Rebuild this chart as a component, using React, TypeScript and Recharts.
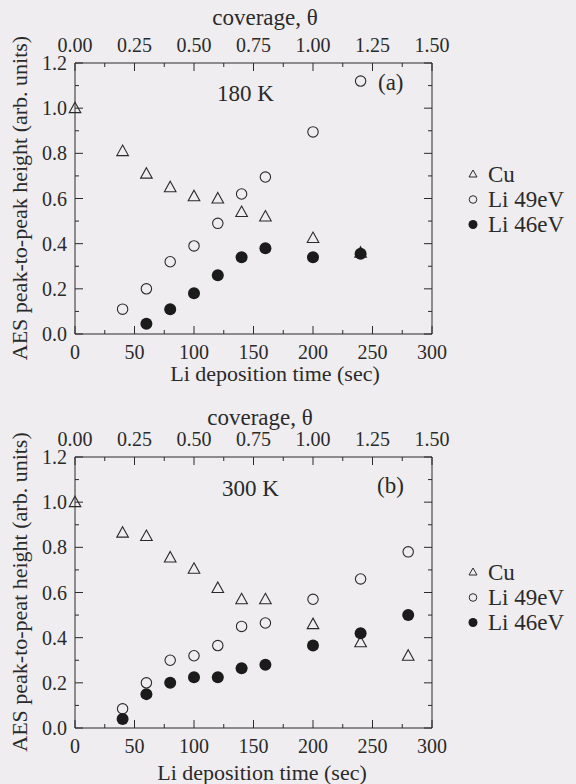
import React from "react";
import { ScatterChart, Scatter, XAxis, YAxis } from "recharts";

const BG = "#efedf0";
const INK = "#2a2a2a";
const FONT = "'Liberation Serif', 'Times New Roman', serif";

// plotting box inside each 576x392 chart
const L = 75;
const R = 432;
const T = 63;
const B = 334;

const timeTicks = [0, 25, 50, 75, 100, 125, 150, 175, 200, 225, 250, 275, 300];
const coverageTicks = [0, 0.125, 0.25, 0.375, 0.5, 0.625, 0.75, 0.875, 1, 1.125, 1.25, 1.375, 1.5];
const heightTicks = [0, 0.1, 0.2, 0.3, 0.4, 0.5, 0.6, 0.7, 0.8, 0.9, 1.0, 1.1, 1.2];

// (a) 180 K
const cuTimeA = [0, 40, 60, 80, 100, 120, 140, 160, 200, 240];
const cuA = [1.0, 0.81, 0.71, 0.65, 0.61, 0.6, 0.54, 0.52, 0.425, 0.36];
const li49TimeA = [40, 60, 80, 100, 120, 140, 160, 200, 240];
const li49A = [0.11, 0.2, 0.32, 0.39, 0.49, 0.62, 0.695, 0.895, 1.12];
const li46TimeA = [60, 80, 100, 120, 140, 160, 200, 240];
const li46A = [0.045, 0.11, 0.18, 0.26, 0.34, 0.38, 0.34, 0.355];

// (b) 300 K
const cuTimeB = [0, 40, 60, 80, 100, 120, 140, 160, 200, 240, 280];
const cuB = [1.0, 0.865, 0.85, 0.755, 0.705, 0.62, 0.57, 0.57, 0.46, 0.38, 0.32];
const liTimeB = [40, 60, 80, 100, 120, 140, 160, 200, 240, 280];
const li49B = [0.085, 0.2, 0.3, 0.32, 0.365, 0.45, 0.465, 0.57, 0.66, 0.78];
const li46B = [0.04, 0.15, 0.2, 0.225, 0.225, 0.265, 0.28, 0.365, 0.42, 0.5];

const zip = (ts: number[], vs: number[]) => ts.map((t, i) => ({ t, v: vs[i] }));

// invisible helper so the top / right axes get drawn (box frame)
const frameCorners = [
  { c: coverageTicks[0], h: heightTicks[0] },
  { c: coverageTicks[coverageTicks.length - 1], h: heightTicks[heightTicks.length - 1] },
];

const Tri = (p: any) => (
  <path
    d={`M${p.cx},${p.cy - 6} L${p.cx + 5.8},${p.cy + 4.5} L${p.cx - 5.8},${p.cy + 4.5} Z`}
    fill="none"
    stroke={INK}
    strokeWidth={1.1}
  />
);
const OpenDot = (p: any) => <circle cx={p.cx} cy={p.cy} r={5.2} fill="none" stroke={INK} strokeWidth={1.1} />;
const FullDot = (p: any) => <circle cx={p.cx} cy={p.cy} r={6} fill="#1b1b1b" />;
const Nothing = () => <g />;

const tickText = { fontSize: 20, fontFamily: FONT, fill: INK };

const BottomTick = (p: any) => {
  const major = p.index % 2 === 0;
  return (
    <g>
      <line x1={p.x} x2={p.x} y1={B} y2={B - (major ? 8 : 4)} stroke={INK} />
      {major && (
        <text x={p.x} y={B + 18} textAnchor="middle" dominantBaseline="central" {...tickText}>
          {p.payload.value}
        </text>
      )}
    </g>
  );
};

const TopTick = (p: any) => {
  const major = p.index % 2 === 0;
  return (
    <g>
      <line x1={p.x} x2={p.x} y1={T} y2={T + (major ? 8 : 4)} stroke={INK} />
      {major && (
        <text x={p.x} y={T - 18} textAnchor="middle" dominantBaseline="central" {...tickText}>
          {p.payload.value.toFixed(2)}
        </text>
      )}
    </g>
  );
};

const LeftTick = (p: any) => {
  const major = p.index % 2 === 0;
  return (
    <g>
      <line x1={L} x2={L + (major ? 8 : 4)} y1={p.y} y2={p.y} stroke={INK} />
      {major && (
        <text x={L - 8} y={p.y} textAnchor="end" dominantBaseline="central" {...tickText}>
          {p.payload.value.toFixed(1)}
        </text>
      )}
    </g>
  );
};

const RightTick = (p: any) => {
  const major = p.index % 2 === 0;
  return <line x1={R} x2={R - (major ? 8 : 4)} y1={p.y} y2={p.y} stroke={INK} />;
};

const abs = (x: number, y: number, size: number, extra: any = {}) => ({
  position: "absolute" as const,
  left: x,
  top: y,
  fontSize: size,
  fontFamily: FONT,
  color: INK,
  whiteSpace: "nowrap" as const,
  lineHeight: 1,
  ...extra,
});

const LegendRow = ({ x, y, kind, label }: any) => (
  <div style={abs(x, y, 23, { transform: "translateY(-50%)", display: "flex", alignItems: "center" })}>
    <svg width={14} height={14} style={{ marginRight: 8 }}>
      {kind === "tri" && <path d="M7,2.5 L11,9.5 L3,9.5 Z" fill="none" stroke={INK} />}
      {kind === "open" && <circle cx={7} cy={7} r={3.8} fill="none" stroke={INK} />}
      {kind === "full" && <circle cx={7} cy={7} r={4.5} fill="#1b1b1b" />}
    </svg>
    <span>{label}</span>
  </div>
);

const Panel = ({ top, cu, li49, li46, temp, tag, yLabel, pos }: any) => (
  <div style={{ position: "absolute", left: 0, top, width: 576, height: 392 }}>
    <ScatterChart width={576} height={392} margin={{ top: 33, right: 134, bottom: 28, left: 35 }}>
      <XAxis
        xAxisId="b"
        type="number"
        dataKey="t"
        domain={[0, 300]}
        ticks={timeTicks}
        interval={0}
        height={30}
        tick={BottomTick}
        tickLine={false}
        axisLine={{ stroke: INK }}
      />
      <XAxis
        xAxisId="top"
        orientation="top"
        type="number"
        dataKey="c"
        domain={[0, 1.5]}
        allowDataOverflow
        ticks={coverageTicks}
        interval={0}
        height={30}
        tick={TopTick}
        tickLine={false}
        axisLine={{ stroke: INK }}
      />
      <YAxis
        yAxisId="l"
        type="number"
        dataKey="v"
        domain={[0, 1.2]}
        ticks={heightTicks}
        interval={0}
        width={40}
        tick={LeftTick}
        tickLine={false}
        axisLine={{ stroke: INK }}
      />
      <YAxis
        yAxisId="r"
        orientation="right"
        type="number"
        dataKey="h"
        domain={[0, 1.2]}
        allowDataOverflow
        ticks={heightTicks}
        interval={0}
        width={10}
        tick={RightTick}
        tickLine={false}
        axisLine={{ stroke: INK }}
      />
      <Scatter xAxisId="top" yAxisId="r" data={frameCorners} shape={Nothing} isAnimationActive={false} />
      <Scatter xAxisId="b" yAxisId="l" data={cu} shape={Tri} isAnimationActive={false} />
      <Scatter xAxisId="b" yAxisId="l" data={li49} shape={OpenDot} isAnimationActive={false} />
      <Scatter xAxisId="b" yAxisId="l" data={li46} shape={FullDot} isAnimationActive={false} />
    </ScatterChart>

    <div style={abs(pos.covX, pos.covY, 23, { transform: "translate(-50%,-50%)" })}>coverage, θ</div>
    <div style={abs(pos.tempX, pos.tempY, 23, { transform: "translateY(-50%)" })}>{temp}</div>
    <div style={abs(pos.tagX, pos.tagY, 23, { transform: "translateY(-50%)" })}>{tag}</div>
    <div style={abs(20, 198, 22, { transform: "translate(-50%,-50%) rotate(-90deg)" })}>{yLabel}</div>
    <div style={abs(pos.xlX, pos.xlY, 22, { transform: "translate(-50%,-50%)" })}>Li deposition time (sec)</div>
    <LegendRow x={466} y={pos.legY} kind="tri" label="Cu" />
    <LegendRow x={466} y={pos.legY + 25} kind="open" label="Li 49eV" />
    <LegendRow x={466} y={pos.legY + 50} kind="full" label="Li 46eV" />
  </div>
);

export default function App() {
  return (
    <div style={{ position: "absolute", left: 0, top: 0, width: 576, height: 784, background: BG, overflow: "hidden" }}>
      <Panel
        top={0}
        cu={zip(cuTimeA, cuA)}
        li49={zip(li49TimeA, li49A)}
        li46={zip(li46TimeA, li46A)}
        temp="180 K"
        tag="(a)"
        yLabel="AES peak-to-peak height (arb. units)"
        pos={{ covX: 265, covY: 17, tempX: 217, tempY: 93, tagX: 378, tagY: 82, xlX: 275, xlY: 374, legY: 174 }}
      />
      <Panel
        top={394}
        cu={zip(cuTimeB, cuB)}
        li49={zip(liTimeB, li49B)}
        li46={zip(liTimeB, li46B)}
        temp="300 K"
        tag="(b)"
        yLabel="AES peak-to-peat height (arb. units)"
        pos={{ covX: 260, covY: 23, tempX: 222, tempY: 94, tagX: 377, tagY: 91, xlX: 262, xlY: 379, legY: 178 }}
      />
    </div>
  );
}
